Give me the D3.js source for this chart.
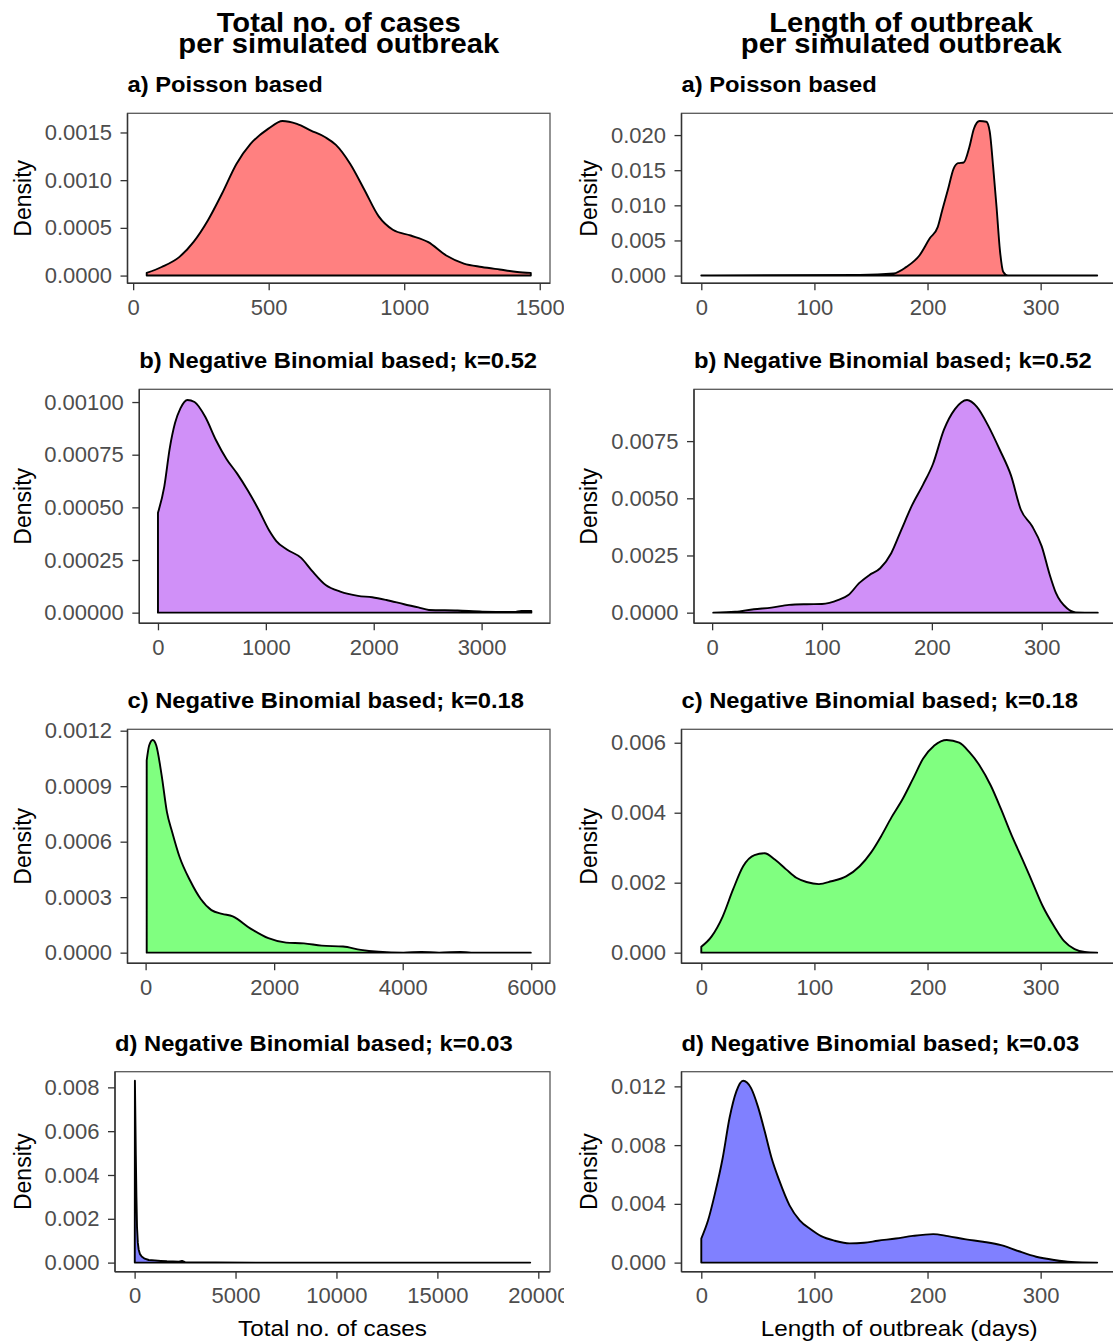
<!DOCTYPE html>
<html>
<head>
<meta charset="utf-8">
<script src="https://cdn.jsdelivr.net/npm/d3@7"></script>
<style>
  html, body { margin: 0; padding: 0; background: #fff; }
  svg { display: block; }
</style>
</head>
<body>
<div id="chart"></div>
<script>
// ---------------- DATA ----------------
const columnTitles = [["Total no. of cases", "per simulated outbreak"], ["Length of outbreak", "per simulated outbreak"]];
const panelTitles = ["a) Poisson based", "b) Negative Binomial based; k=0.52", "c) Negative Binomial based; k=0.18", "d) Negative Binomial based; k=0.03"];
const xAxisTitles = ["Total no. of cases", "Length of outbreak (days)"];
const yAxisTitle = "Density";

// Column 1: total number of cases
const casesPoissonX = [50,105,171,223,276,328,381,433,499,551,604,656,709,748,801,853,906,958,1024,1089,1155,1220,1286,1352,1417,1467];
const casesPoissonY = [0.000028,0.00009,0.000196,0.000353,0.00058,0.00086,0.00117,0.00138,0.00154,0.00162,0.00159,0.00152,0.00145,0.00137,0.00117,0.00090,0.00062,0.00048,0.00042,0.00035,0.00021,0.000126,0.00009,0.000063,0.000038,0.000028];

const casesNB052X = [0,59,109,158,208,273,339,438,537,635,734,833,932,1031,1097,1195,1327,1426,1558,1690,1854,1986,2118,2282,2414,2512,2776,3006,3302,3368,3461];
const casesNB052Y = [0.000474,0.0006,0.00078,0.0009,0.00097,0.00101,0.00100,0.00093,0.00082,0.00073,0.00066,0.00058,0.00049,0.00039,0.00034,0.0003,0.00026,0.0002,0.00013,0.0001,0.00008,0.000073,0.00006,0.00004,0.000025,0.000013,0.00001,0.000005,0.000003,0.000008,0.000008];

const casesNB018X = [17,55,111,166,249,332,415,526,692,858,1024,1190,1356,1633,1910,2186,2463,2740,3072,3348,3625,4012,4289,4566,4898,5064,5993];
const casesNB018Y = [0.00104,0.00112,0.00115,0.00112,0.00096,0.00076,0.00065,0.00052,0.00039,0.00029,0.00023,0.00021,0.000196,0.00013,0.000078,0.000054,0.00005,0.000038,0.000033,0.000015,0.000005,0,0.000004,0,0.000004,0,0];

const casesNB003X = [8,15,30,60,90,120,160,200,260,350,500,700,1000,1300,1600,1900,2200,2350,2500,3000,4000,6000,19600];
const casesNB003Y = [0,0.0083,0.0072,0.0049,0.0030,0.0016,0.0009,0.0006,0.0004,0.00028,0.00018,0.00012,0.0001,0.00008,0.00006,0.00005,0.00004,0.00008,0.00002,0.00001,0.000003,0,0];

// Column 2: length of outbreak (days)
const lengthPoissonX = [0,140,170,181,193,202,209,213,218,223,227,232,237,241,246,252,255,258,261,264,267,271,350];
const lengthPoissonY = [0,0.0001,0.0003,0.0012,0.0029,0.0053,0.0069,0.0093,0.0122,0.0152,0.0160,0.0161,0.0183,0.0209,0.0220,0.0219,0.0205,0.0155,0.0098,0.0036,0.0005,0,0];

const lengthNB052X = [1,21,38,54,70,86,100,115,124,134,143,153,163,172,182,192,201,211,221,232,241,251,262,272,281,291,300,307,313,323,331,351];
const lengthNB052Y = [0,0.00004,0.00015,0.00022,0.00034,0.00037,0.00038,0.00056,0.00077,0.0013,0.00164,0.00194,0.0026,0.0036,0.0047,0.0056,0.0065,0.0080,0.0089,0.0093,0.0090,0.0082,0.0071,0.0060,0.0045,0.0038,0.0029,0.0017,0.00085,0.00019,0.00001,0];

const lengthNB018X = [0,9,19,28,37,47,56,65,75,84,93,104,115,128,140,150,159,168,178,187,196,206,217,228,237,246,256,265,274,284,293,302,312,321,330,339,350];
const lengthNB018Y = [0.00017,0.00046,0.00104,0.0018,0.00247,0.00279,0.00284,0.00266,0.00238,0.00214,0.00202,0.00196,0.00204,0.00218,0.00247,0.00286,0.00333,0.00386,0.00439,0.00496,0.00554,0.00592,0.00608,0.00600,0.00573,0.00535,0.00477,0.00410,0.00338,0.00266,0.00199,0.00132,0.00075,0.00032,0.0001,0.00002,0];

const lengthNB003X = [0,6,12,19,25,31,37,44,50,56,62,69,78,87,97,106,118,131,144,156,172,187,205,218,234,249,265,280,296,312,327,350];
const lengthNB003Y = [0.00164,0.00288,0.00468,0.00716,0.00986,0.01166,0.01238,0.01188,0.01064,0.00896,0.00716,0.00558,0.0039,0.00288,0.00225,0.0018,0.00149,0.00131,0.00135,0.00149,0.00164,0.00182,0.00194,0.0018,0.00158,0.00142,0.00119,0.00079,0.0004,0.00018,0.00005,0];

// Tick values
const casesPoissonXTicks = [0,500,1000,1500];
const casesPoissonYTicks = [0,0.0005,0.0010,0.0015];
const casesNB052XTicks = [0,1000,2000,3000];
const casesNB052YTicks = [0,0.00025,0.0005,0.00075,0.001];
const casesNB018XTicks = [0,2000,4000,6000];
const casesNB018YTicks = [0,0.0003,0.0006,0.0009,0.0012];
const casesNB003XTicks = [0,5000,10000,15000,20000];
const casesNB003YTicks = [0,0.002,0.004,0.006,0.008];
const lengthXTicks = [0,100,200,300];
const lengthPoissonYTicks = [0,0.005,0.010,0.015,0.020];
const lengthNB052YTicks = [0,0.0025,0.005,0.0075];
const lengthNB018YTicks = [0,0.002,0.004,0.006];
const lengthNB003YTicks = [0,0.004,0.008,0.012];

const fillColors = ["#FF8080", "#D090F8", "#80FF80", "#8080FF"];

// ---------------- LAYOUT ----------------
const W = 1113, H = 1342;
const FONT = "'Liberation Sans', Arial, sans-serif";
const SX = 1.08; // horizontal stretch of title text
const rowBox = [[113.3, 283.3], [389.3, 623.3], [729.3, 963.3], [1071.7, 1271.7]];
const colLeft = [[127.5, 139.3, 127.5, 115], [681.5, 694, 681.5, 681.5]];
const colRight = [550, 1117];

const panels = [
  {col:0,row:0,x:casesPoissonX,y:casesPoissonY,xt:casesPoissonXTicks,yt:casesPoissonYTicks,yf:".4f"},
  {col:0,row:1,x:casesNB052X,y:casesNB052Y,xt:casesNB052XTicks,yt:casesNB052YTicks,yf:".5f"},
  {col:0,row:2,x:casesNB018X,y:casesNB018Y,xt:casesNB018XTicks,yt:casesNB018YTicks,yf:".4f"},
  {col:0,row:3,x:casesNB003X,y:casesNB003Y,xt:casesNB003XTicks,yt:casesNB003YTicks,yf:".3f",linear:true},
  {col:1,row:0,x:lengthPoissonX,y:lengthPoissonY,xt:lengthXTicks,yt:lengthPoissonYTicks,yf:".3f"},
  {col:1,row:1,x:lengthNB052X,y:lengthNB052Y,xt:lengthXTicks,yt:lengthNB052YTicks,yf:".4f"},
  {col:1,row:2,x:lengthNB018X,y:lengthNB018Y,xt:lengthXTicks,yt:lengthNB018YTicks,yf:".3f"},
  {col:1,row:3,x:lengthNB003X,y:lengthNB003Y,xt:lengthXTicks,yt:lengthNB003YTicks,yf:".3f"}
];

const svg = d3.select("#chart").append("svg").attr("width", W).attr("height", H)
  .style("font-family", FONT);
svg.append("rect").attr("width", W).attr("height", H).attr("fill", "#fff");

function addText(parent, x, y, str, size, weight, anchor, fill, sx) {
  return parent.append("text")
    .attr("transform", `translate(${x},${y}) scale(${sx || SX},1)`)
    .attr("font-size", size).attr("font-weight", weight || "normal")
    .attr("text-anchor", anchor || "start").attr("fill", fill || "#000")
    .text(str);
}

function drawColumn(col) {
  const g = svg.append("g");
  if (col === 1) {
    g.append("rect").attr("x", 564).attr("y", 0).attr("width", W - 564).attr("height", H).attr("fill", "#fff");
  }
  // column title, centred on the first panel
  const c0 = (colLeft[col][0] + colRight[col]) / 2 + (col === 1 ? 2 : 0);
  addText(g, c0, 32, columnTitles[col][0], 27, "bold", "middle");
  addText(g, c0, 53, columnTitles[col][1], 27, "bold", "middle");

  panels.filter(p => p.col === col).forEach(p => {
    const L = colLeft[col][p.row], R = colRight[col];
    const [T, B] = rowBox[p.row];
    const [xmin, xmax] = d3.extent(p.x);
    const xr = xmax - xmin;
    const ymax = d3.max(p.y);
    const x = d3.scaleLinear().domain([xmin - 0.05 * xr, xmax + 0.05 * xr]).range([L, R]);
    const y = d3.scaleLinear().domain([-0.05 * ymax, 1.05 * ymax]).range([B, T]);
    const pg = g.append("g");

    // panel border
    pg.append("rect").attr("x", L).attr("y", T).attr("width", R - L).attr("height", B - T)
      .attr("fill", "none").attr("stroke", "#595959").attr("stroke-width", 1.3);

    // density area
    const pts = p.x.map((v, i) => ({x: v, y: p.y[i]}));
    const area = d3.area()
      .x(d => x(d.x)).y0(y(0)).y1(d => y(d.y))
      .curve(p.linear ? d3.curveLinear : d3.curveMonotoneX);
    pg.append("path").datum(pts).attr("d", area)
      .attr("fill", fillColors[p.row]).attr("stroke", "#000")
      .attr("stroke-width", 1.9).attr("stroke-linejoin", "round");

    // axes
    const ax = pg.append("g").attr("transform", `translate(0,${B})`)
      .call(d3.axisBottom(x).tickValues(p.xt).tickFormat(d3.format("d")).tickSize(7).tickPadding(9));
    const ay = pg.append("g").attr("transform", `translate(${L},0)`)
      .call(d3.axisLeft(y).tickValues(p.yt).tickFormat(d3.format(p.yf)).tickSize(7).tickPadding(8.5));
    [ax, ay].forEach(a => {
      a.select(".domain").attr("stroke", "#333").attr("stroke-width", 1.4);
      a.selectAll(".tick line").attr("stroke", "#333").attr("stroke-width", 1.3);
      a.selectAll(".tick text").attr("fill", "#4D4D4D").attr("font-size", 22).attr("font-family", FONT);
    });
    ax.select(".domain").attr("d", `M${L},0H${R}`);
    ay.select(".domain").attr("d", `M0,${T}V${B}`);

    // panel title
    addText(pg, L, T - 21, panelTitles[p.row], 22, "bold", "start");

    // y axis title
    const dx = col === 0 ? 31 : 597;
    pg.append("text").attr("transform", `translate(${dx},${(T + B) / 2}) rotate(-90)`)
      .attr("text-anchor", "middle").attr("font-size", 23).attr("fill", "#000").text(yAxisTitle);

    // x axis title on bottom row
    if (p.row === 3) {
      addText(pg, (L + R) / 2, 1336, xAxisTitles[col], 22.5, "normal", "middle");
    }
  });
}

drawColumn(0);
drawColumn(1);
</script>
</body>
</html>
